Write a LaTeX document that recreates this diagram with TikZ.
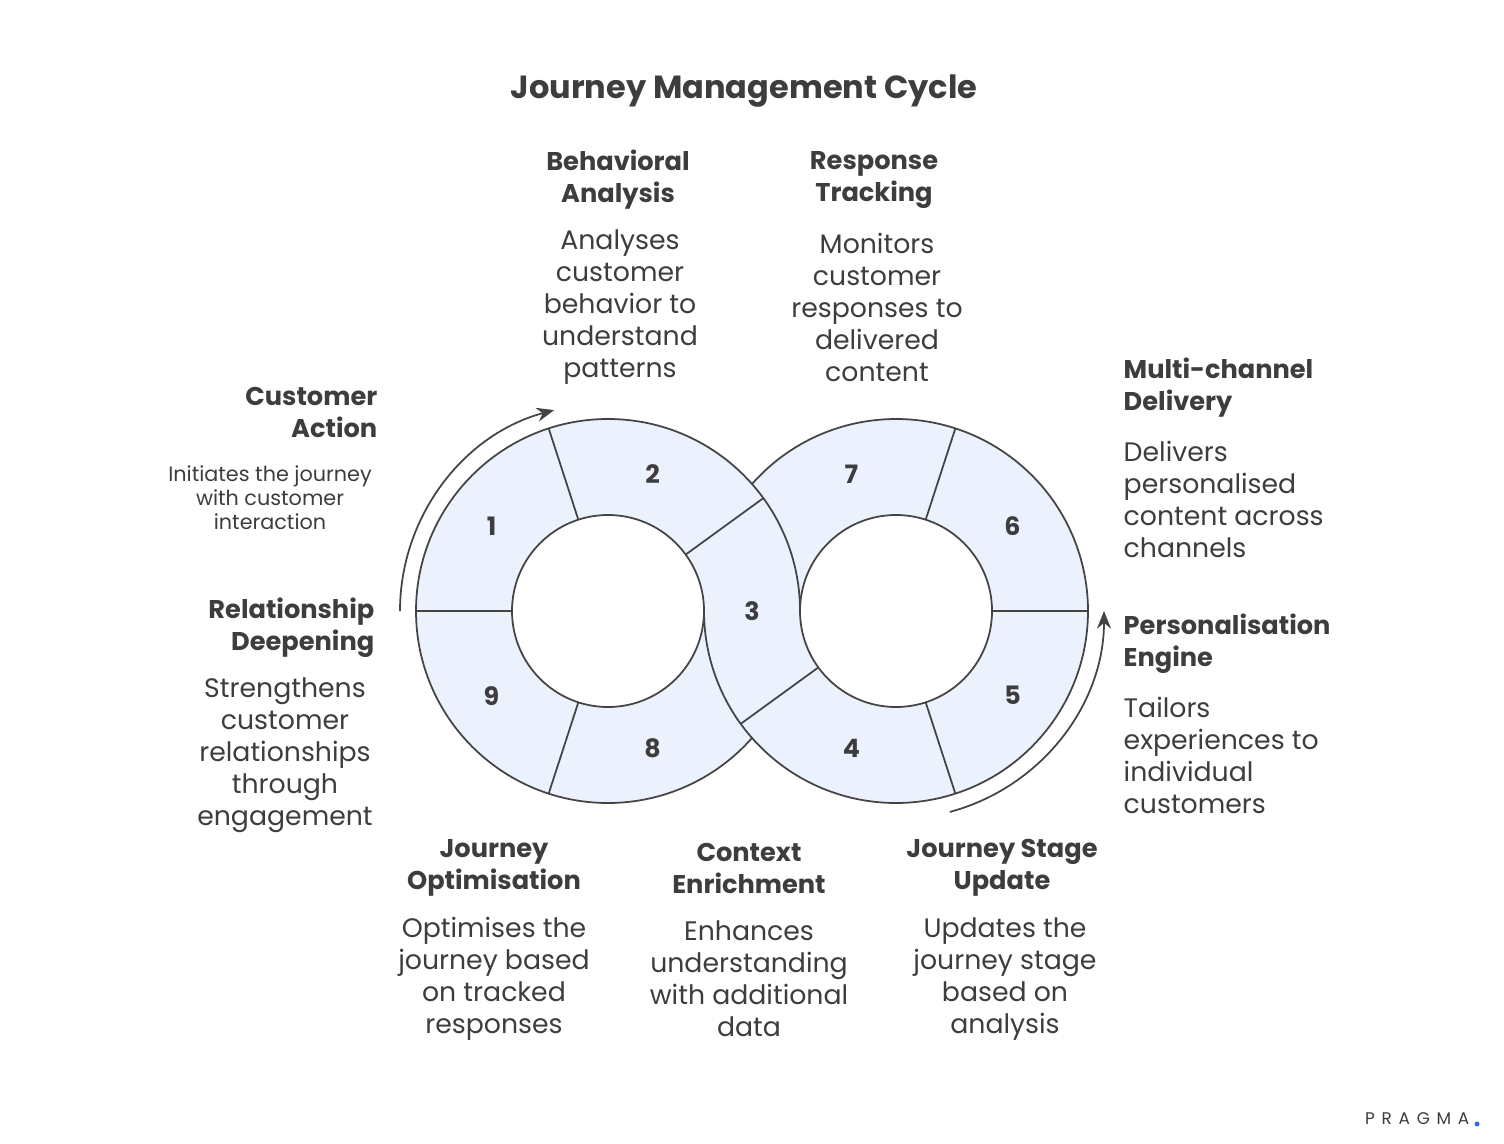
\documentclass[tikz,border=0pt]{standalone}
\usepackage{fontspec}
\setmainfont{Poppins}
\usetikzlibrary{arrows.meta,calc}
\definecolor{fillc}{HTML}{EBF1FD}
\definecolor{linec}{HTML}{444444}
\definecolor{txt}{HTML}{3D3D3D}
\definecolor{dotc}{HTML}{2F6FE0}
\begin{document}
\begin{tikzpicture}[x=0.01cm,y=-0.01cm,
  ring/.style={draw=linec,line width=0.5pt},
  num/.style={font=\fontsize{7.2pt}{9pt}\selectfont\bfseries,text=txt},
  head/.style={font=\fontsize{7.3pt}{9.1pt}\selectfont\bfseries,text=txt,inner sep=0pt},
  desc/.style={font=\fontsize{7.6pt}{9.1pt}\selectfont,text=txt,inner sep=0pt},
  small/.style={font=\fontsize{5.9pt}{6.8pt}\selectfont,text=txt,inner sep=0pt},
  arr/.style={draw=linec,line width=0.5pt,-{Stealth[length=5pt,width=4pt]}}]
\useasboundingbox (0,0) rectangle (1504,1143);
\coordinate (L) at (608,611);
\coordinate (R) at (896,611);
% fills
\fill[fillc,even odd rule] (L) circle[radius=192] (L) circle[radius=96];
\fill[fillc,even odd rule] (R) circle[radius=192] (R) circle[radius=96];
\fill[white] (L) circle[radius=96];
\fill[white] (R) circle[radius=96];
% outlines
\draw[ring] (L) ++(0:192) arc[start angle=0,end angle=-318.6,radius=192];
\draw[ring] (R) ++(-138.6:192) arc[start angle=-138.6,end angle=180,radius=192];
\draw[ring] (L) circle[radius=96];
\draw[ring] (R) circle[radius=96];
\foreach \a in {-36,-108,-180,-252}{\draw[ring] (L) ++(\a:96) -- ++(\a:96);}
\foreach \a in {-216,-288,0,-72}{\draw[ring] (R) ++(\a:96) -- ++(\a:96);}
% numbers
\node[num] (n1) at ($(L)+(-144:144)$) {1};
\node[num] (n2) at ($(L)+(-72:144)$) {2};
\node[num] (n9) at ($(L)+(144:144)$) {9};
\node[num] (n8) at ($(L)+(72:144)$) {8};
\node[num] (n3) at (752,611) {3};
\node[num] (n7) at ($(R)+(-108:144)$) {7};
\node[num] (n6) at ($(R)+(-36:144)$) {6};
\node[num] (n5) at ($(R)+(36:144)$) {5};
\node[num] (n4) at ($(R)+(108:144)$) {4};
% arrows
\coordinate (a1s) at ($(L)+(180:208)$);
\coordinate (a2s) at ($(R)+(75:208)$);
\draw[arr] (a1s) arc[start angle=180,end angle=255,radius=208] coordinate (a1e);
\draw[arr] (a2s) arc[start angle=75,end angle=0,radius=208] coordinate (a2e);
% title
\node[font=\fontsize{9.1pt}{10pt}\selectfont\bfseries,text=txt] (title) at (744,91) {Journey Management Cycle};
% texts
\node[head,align=center] (h2) at (618,180) {Behavioral\\Analysis};
\node[desc,align=center] (d2) at (620,307) {Analyses\\customer\\behavior to\\understand\\patterns};
\node[head,align=center] (h7) at (874,180) {Response\\Tracking};
\node[desc,align=center] (d7) at (877,307) {Monitors\\customer\\responses to\\delivered\\content};
\node[head,align=left,anchor=west] (h6) at (1123,388) {Multi-channel\\Delivery};
\node[desc,align=left,anchor=west] (d6) at (1123,499) {Delivers\\personalised\\content across\\channels};
\node[head,align=left,anchor=west] (h5) at (1123,644) {Personalisation\\Engine};
\node[desc,align=left,anchor=west] (d5) at (1123,755) {Tailors\\experiences to\\individual\\customers};
\node[head,align=right,anchor=east] (h1) at (378,412) {Customer\\Action};
\node[small,align=center] (d1) at (270,498) {Initiates the journey\\with customer\\interaction};
\node[head,align=right,anchor=east] (h9) at (375,628) {Relationship\\Deepening};
\node[desc,align=center] (d9) at (285,755) {Strengthens\\customer\\relationships\\through\\engagement};
\node[head,align=center] (h8) at (494,868) {Journey\\Optimisation};
\node[desc,align=center] (d8) at (494,979) {Optimises the\\journey based\\on tracked\\responses};
\node[head,align=center] (h3) at (749,868) {Context\\Enrichment};
\node[desc,align=center] (d3) at (749,979) {Enhances\\understanding\\with additional\\data};
\node[head,align=center] (h4) at (1002,868) {Journey Stage\\Update};
\node[desc,align=center] (d4) at (1005,979) {Updates the\\journey stage\\based on\\analysis};
% logo
\node[font=\fontsize{4.8pt}{6pt}\selectfont\addfontfeature{LetterSpace=40},text=txt,anchor=east,inner sep=0pt] (logo) at (1470,1119) {PRAGMA};
\fill[dotc] (1477,1124) circle[radius=2.5];
\end{tikzpicture}
\end{document}
